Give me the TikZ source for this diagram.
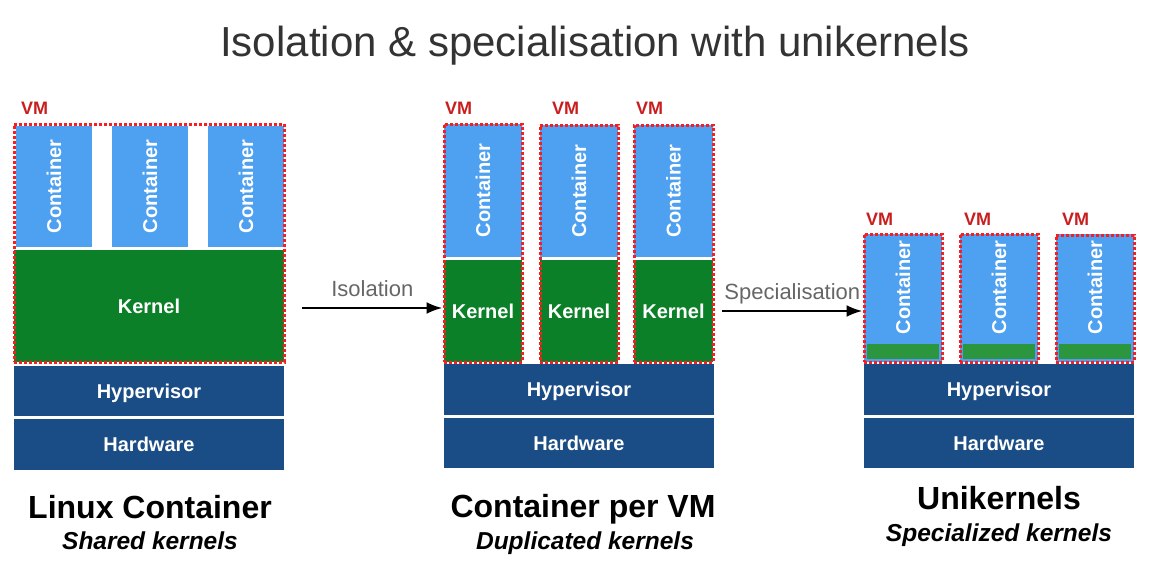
\documentclass[tikz,border=0pt]{standalone}
\usepackage{fontspec}
\setmainfont{Liberation Sans}
\usetikzlibrary{arrows, arrows.meta, positioning}
\definecolor{contblue}{RGB}{78,160,240}
\definecolor{kerngreen}{RGB}{12,128,40}
\definecolor{unigreen}{RGB}{44,150,62}
\definecolor{hwblue}{RGB}{26,76,134}
\definecolor{vmred}{RGB}{250,28,30}
\definecolor{vmtext}{RGB}{200,30,30}

\begin{document}
\begin{tikzpicture}
    [
        x=1pt, y=-1pt, >={Latex[length=16pt, width=12pt]},
        box/.style={fill=hwblue, text=white, inner sep=0pt, font=\bfseries\fontsize{20}{24}\selectfont, text height=14pt, text depth=0pt},
        kernel/.style={box, fill=kerngreen},
        container/.style={box, fill=contblue, rotate=90},
        vm/.style={draw=vmred, line width=3pt, dash pattern=on 2.6pt off 2.4pt, inner sep=0pt},
        vmlabel/.style={anchor=base west, inner sep=0pt, text=vmtext, font=\bfseries\fontsize{18}{21}\selectfont},
        caption/.style={anchor=base, inner sep=0pt, font=\bfseries\fontsize{32}{37}\selectfont},
        subcaption/.style={anchor=base, inner sep=0pt, font=\bfseries\itshape\fontsize{24.5}{29}\selectfont}
    ]
    \tikzstyle{line} = [draw, ->, line width=2.4pt]
    \tikzstyle{arrowlabel} = [text=black!60, font=\fontsize{22}{26}\selectfont, text depth=5pt]

    \useasboundingbox (0,0) rectangle (1168,586);

    \node[anchor=base, text=black!80, font=\fontsize{42}{48}\selectfont] (title) at (595,57) {Isolation \& specialisation with unikernels};

    % Linux container
    \begin{scope}[shift={(14,0)}]
        \node[container, minimum width=121, minimum height=76] (lc1) at (40,186.5) {Container};
        \node[container, minimum width=121, minimum height=76] (lc2) at (136,186.5) {Container};
        \node[container, minimum width=121, minimum height=76] (lc3) at (232,186.5) {Container};
        \node[kernel, minimum width=270, minimum height=112] (lkernel) at (135,306) {Kernel};
        \node[box, minimum width=270, minimum height=50] (lhyp) at (135,391) {Hypervisor};
        \node[box, minimum width=270, minimum height=51] (lhw) at (135,444.5) {Hardware};

        \node[vm, minimum width=270, minimum height=238] (lvm) at (135,243) {};
        \node[vmlabel] (lvm_label) at (7,114) {VM};

        \node[caption] (lcap) at (136,518) {Linux Container};
        \node[subcaption] (lsub) at (136,549) {Shared kernels};
    \end{scope}

    % Container per VM
    \begin{scope}[shift={(444,0)}]
        \node[container, minimum width=133, minimum height=78] (mc1) at (39,190.5) {Container};
        \node[container, minimum width=132, minimum height=78] (mc2) at (135,191) {Container};
        \node[container, minimum width=132, minimum height=79] (mc3) at (229.5,191) {Container};
        \node[kernel, minimum width=78, minimum height=102] (mk1) at (39,311) {Kernel};
        \node[kernel, minimum width=78, minimum height=102] (mk2) at (135,311) {Kernel};
        \node[kernel, minimum width=79, minimum height=102] (mk3) at (229.5,311) {Kernel};
        \node[box, minimum width=270, minimum height=51] (mhyp) at (135,389.5) {Hypervisor};
        \node[box, minimum width=270, minimum height=50] (mhw) at (135,443) {Hardware};

        \node[vm, minimum width=78, minimum height=238] (mvm1) at (39,243) {};
        \node[vm, minimum width=78, minimum height=237] (mvm2) at (135,243.5) {};
        \node[vm, minimum width=79, minimum height=237] (mvm3) at (229.5,243.5) {};
        \node[vmlabel] (mvm1_label) at (1,114) {VM};
        \node[vmlabel] (mvm2_label) at (108,114) {VM};
        \node[vmlabel] (mvm3_label) at (192,114) {VM};

        \node[caption] (mcap) at (139,517) {Container per VM};
        \node[subcaption] (msub) at (141,549) {Duplicated kernels};
    \end{scope}

    % Unikernels
    \begin{scope}[shift={(864,0)}]
        \node[container, minimum width=107, minimum height=78] (rc1) at (39,287.5) {Container};
        \node[container, minimum width=107, minimum height=78] (rc2) at (135,287.5) {Container};
        \node[container, minimum width=107, minimum height=78] (rc3) at (231,287.5) {Container};
        \node[fill=unigreen, draw=contblue, line width=3pt, inner sep=0pt, minimum width=75, minimum height=18] (rk1) at (39,351.5) {};
        \node[fill=unigreen, draw=contblue, line width=3pt, inner sep=0pt, minimum width=75, minimum height=18] (rk2) at (135,351.5) {};
        \node[fill=unigreen, draw=contblue, line width=3pt, inner sep=0pt, minimum width=75, minimum height=18] (rk3) at (231,351.5) {};
        \node[box, minimum width=270, minimum height=51] (rhyp) at (135,389.5) {Hypervisor};
        \node[box, minimum width=270, minimum height=50] (rhw) at (135,443) {Hardware};

        \node[vm, minimum width=78, minimum height=128] (rvm1) at (39,298) {};
        \node[vm, minimum width=78, minimum height=128] (rvm2) at (135,298) {};
        \node[vm, minimum width=78, minimum height=127] (rvm3) at (231,298.5) {};
        \node[vmlabel] (rvm1_label) at (2,225) {VM};
        \node[vmlabel] (rvm2_label) at (100,225) {VM};
        \node[vmlabel] (rvm3_label) at (198,225) {VM};

        \node[caption] (rcap) at (135,509) {Unikernels};
        \node[subcaption] (rsub) at (135,541) {Specialized kernels};
    \end{scope}

    % Arrows
    \path[line] ([xshift=18pt, yshift=-2pt]lkernel.east) -- ([yshift=-2pt]lkernel.east -| mvm1.west)
        node[midway, above=2pt, arrowlabel] {Isolation};
    \path[line] ([xshift=9pt]mk3.east) -- (mk3.east -| rvm1.west)
        node[midway, above=2pt, arrowlabel] {Specialisation};

\end{tikzpicture}
\end{document}
